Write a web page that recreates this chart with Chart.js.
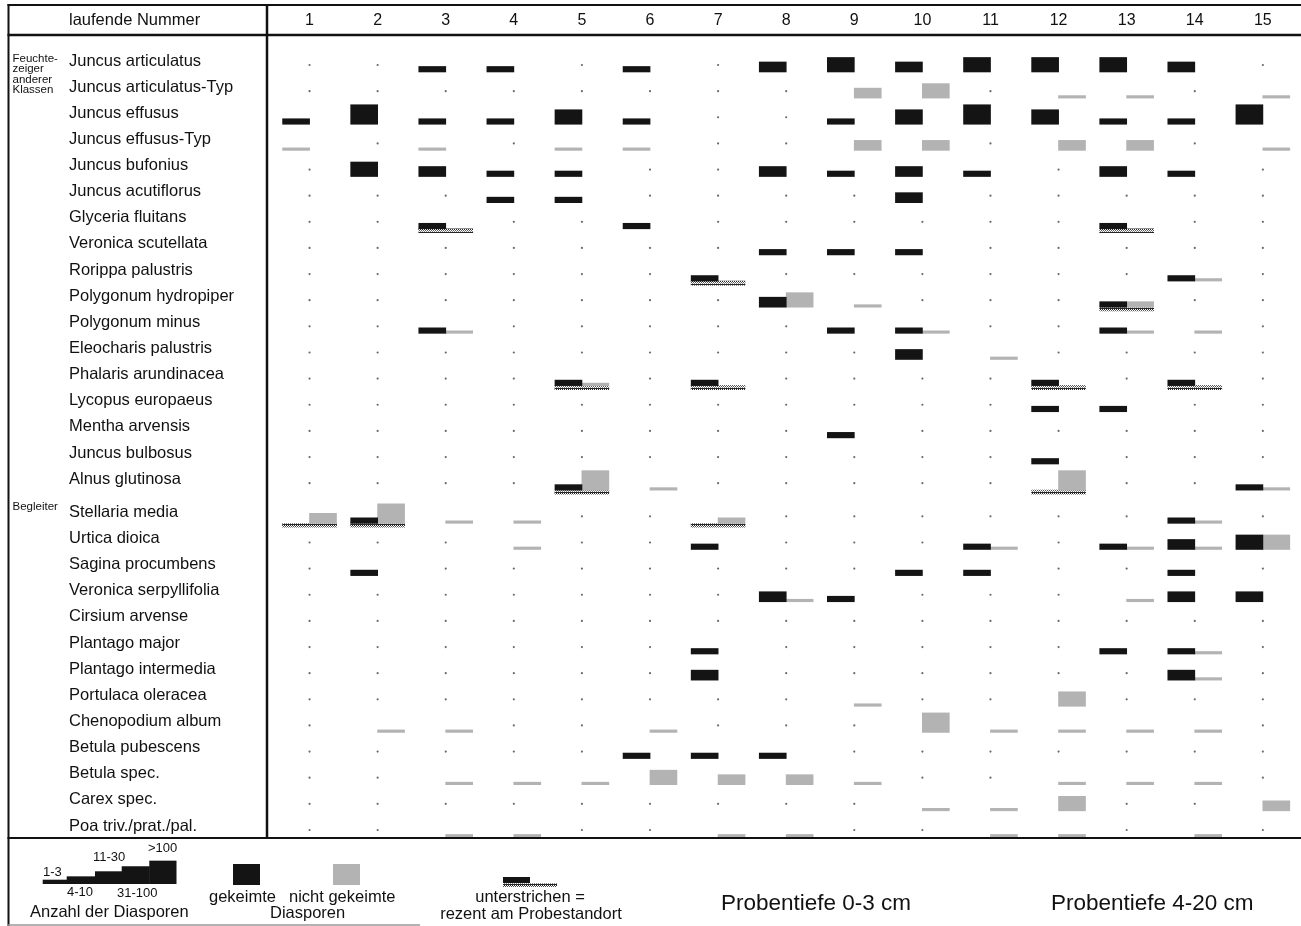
<!DOCTYPE html>
<html>
<head>
<meta charset="utf-8">
<script src="https://cdn.jsdelivr.net/npm/chart.js@4.4.1/dist/chart.umd.min.js"></script>
<style>
html,body{margin:0;padding:0;background:#fff;}
#wrap{position:relative;width:1301px;height:926px;}
canvas{display:block;}
</style>
</head>
<body>
<div id="wrap"><canvas id="c" width="1301" height="926"></canvas></div>
<script>
// ---------------- DATA ----------------
const columns = ['1','2','3','4','5','6','7','8','9','10','11','12','13','14','15'];
const species = [
  'Juncus articulatus','Juncus articulatus-Typ','Juncus effusus','Juncus effusus-Typ',
  'Juncus bufonius','Juncus acutiflorus','Glyceria fluitans','Veronica scutellata',
  'Rorippa palustris','Polygonum hydropiper','Polygonum minus','Eleocharis palustris',
  'Phalaris arundinacea','Lycopus europaeus','Mentha arvensis','Juncus bulbosus',
  'Alnus glutinosa',
  'Stellaria media','Urtica dioica','Sagina procumbens','Veronica serpyllifolia',
  'Cirsium arvense','Plantago major','Plantago intermedia','Portulaca oleracea',
  'Chenopodium album','Betula pubescens','Betula spec.','Carex spec.','Poa triv./prat./pal.'
];
const groupNames = [['Feuchte-','zeiger','anderer','Klassen'], ['Begleiter']];
const groupStarts = [0, 17];
const abundanceClasses = ['1-3','4-10','11-30','31-100','>100'];

// abundance class (0 = none, 1..5) of germinated diaspores, per species, per sample 1..15
const black = [
  [0,0,2,2,0,2,0,3,4,3,4,4,4,3,0],
  [0,0,0,0,0,0,0,0,0,0,0,0,0,0,0],
  [2,5,2,2,4,2,0,0,2,4,5,4,2,2,5],
  [0,0,0,0,0,0,0,0,0,0,0,0,0,0,0],
  [0,4,3,2,2,0,0,3,2,3,2,0,3,2,0],
  [0,0,0,2,2,0,0,0,0,3,0,0,0,0,0],
  [0,0,2,0,0,2,0,0,0,0,0,0,2,0,0],
  [0,0,0,0,0,0,0,2,2,2,0,0,0,0,0],
  [0,0,0,0,0,0,2,0,0,0,0,0,0,2,0],
  [0,0,0,0,0,0,0,3,0,0,0,0,2,0,0],
  [0,0,2,0,0,0,0,0,2,2,0,0,2,0,0],
  [0,0,0,0,0,0,0,0,0,3,0,0,0,0,0],
  [0,0,0,0,2,0,2,0,0,0,0,2,0,2,0],
  [0,0,0,0,0,0,0,0,0,0,0,2,2,0,0],
  [0,0,0,0,0,0,0,0,2,0,0,0,0,0,0],
  [0,0,0,0,0,0,0,0,0,0,0,2,0,0,0],
  [0,0,0,0,2,0,0,0,0,0,0,0,0,0,2],
  [0,2,0,0,0,0,0,0,0,0,0,0,0,2,0],
  [0,0,0,0,0,0,2,0,0,0,2,0,2,3,4],
  [0,2,0,0,0,0,0,0,0,2,2,0,0,2,0],
  [0,0,0,0,0,0,0,3,2,0,0,0,0,3,3],
  [0,0,0,0,0,0,0,0,0,0,0,0,0,0,0],
  [0,0,0,0,0,0,2,0,0,0,0,0,2,2,0],
  [0,0,0,0,0,0,3,0,0,0,0,0,0,3,0],
  [0,0,0,0,0,0,0,0,0,0,0,0,0,0,0],
  [0,0,0,0,0,0,0,0,0,0,0,0,0,0,0],
  [0,0,0,0,0,2,2,2,0,0,0,0,0,0,0],
  [0,0,0,0,0,0,0,0,0,0,0,0,0,0,0],
  [0,0,0,0,0,0,0,0,0,0,0,0,0,0,0],
  [0,0,0,0,0,0,0,0,0,0,0,0,0,0,0]
];
// abundance class of non-germinated diaspores
const gray = [
  [0,0,0,0,0,0,0,0,0,0,0,0,0,0,0],
  [0,0,0,0,0,0,0,0,3,4,0,1,1,0,1],
  [0,0,0,0,0,0,0,0,0,0,0,0,0,0,0],
  [1,0,1,0,1,1,0,0,3,3,0,3,3,0,1],
  [0,0,0,0,0,0,0,0,0,0,0,0,0,0,0],
  [0,0,0,0,0,0,0,0,0,0,0,0,0,0,0],
  [0,0,0,0,0,0,0,0,0,0,0,0,0,0,0],
  [0,0,0,0,0,0,0,0,0,0,0,0,0,0,0],
  [0,0,0,0,0,0,0,0,0,0,0,0,0,1,0],
  [0,0,0,0,0,0,0,4,1,0,0,0,2,0,0],
  [0,0,1,0,0,0,0,0,0,1,0,0,1,1,0],
  [0,0,0,0,0,0,0,0,0,0,1,0,0,0,0],
  [0,0,0,0,1,0,0,0,0,0,0,0,0,0,0],
  [0,0,0,0,0,0,0,0,0,0,0,0,0,0,0],
  [0,0,0,0,0,0,0,0,0,0,0,0,0,0,0],
  [0,0,0,0,0,0,0,0,0,0,0,0,0,0,0],
  [0,0,0,0,5,1,0,0,0,0,0,5,0,0,1],
  [3,5,1,1,0,0,2,0,0,0,0,0,0,1,0],
  [0,0,0,1,0,0,0,0,0,0,1,0,1,1,4],
  [0,0,0,0,0,0,0,0,0,0,0,0,0,0,0],
  [0,0,0,0,0,0,0,1,0,0,0,0,1,0,0],
  [0,0,0,0,0,0,0,0,0,0,0,0,0,0,0],
  [0,0,0,0,0,0,0,0,0,0,0,0,0,1,0],
  [0,0,0,0,0,0,0,0,0,0,0,0,0,1,0],
  [0,0,0,0,0,0,0,0,1,0,0,4,0,0,0],
  [0,1,1,0,0,1,0,0,0,5,1,1,1,1,0],
  [0,0,0,0,0,0,0,0,0,0,0,0,0,0,0],
  [0,0,1,1,1,4,3,3,1,0,0,1,1,1,0],
  [0,0,0,0,0,0,0,0,0,1,1,4,0,0,3],
  [0,0,1,1,0,0,1,1,0,0,1,1,0,1,0]
];
// [species index, sample number] : underlined = recent at sample site
const underlined = [[6,3],[6,13],[8,7],[9,13],[12,5],[12,7],[12,12],[12,14],[16,5],[16,12],[17,1],[17,2],[17,7]];
// [species index, sample number] : non-germinated mark drawn on the left half of the cell
const grayOnLeft = [[3,1],[3,3],[3,5],[3,6]];

// ---------------- GEOMETRY / STYLE CONSTANTS ----------------
const FONT = '"Liberation Sans", Arial, Helvetica, sans-serif';
const BLACK = '#141414', GRAY = '#b3b3b3', DOT = '#6a6a6a';
const GROUP_GAP = 0.27;           // extra space (in rows) before "Begleiter"
const BASE_OFF = 0.42;            // bar baseline below label centre (rows)
const DOT_OFF = 0.153;
const HATCH_H = 0.153;
const CLASS_PX = [0, 2.5, 5.5, 10, 14.5, 19.5];
const ROW_PX = 26.135;
const CLASS_H = CLASS_PX.map(p => p / ROW_PX);
const HALF = 0.1975;              // half cell width offset (columns)

const rowPos = i => i + (i >= groupStarts[1] ? GROUP_GAP : 0);
const key = (r, c) => r * 100 + c;
const underSet = new Set(underlined.map(([r, c]) => key(r, c)));
const leftSet = new Set(grayOnLeft.map(([r, c]) => key(r, c)));

// hatch pattern for "underlined"
function makeHatch() {
  const cv = document.createElement('canvas');
  cv.width = 4; cv.height = 4;
  const g = cv.getContext('2d');
  g.fillStyle = '#ffffff'; g.fillRect(0, 0, 4, 4);
  g.fillStyle = '#262626'; g.fillRect(0, 0, 4, 1);
  g.fillRect(0, 1, 1, 1); g.fillRect(2, 1, 1, 1);
  g.fillStyle = '#555'; g.fillRect(1, 2, 1, 1); g.fillRect(3, 2, 1, 1);
  g.fillStyle = '#888'; g.fillRect(0, 3, 1, 1); g.fillRect(2, 3, 1, 1);
  return document.getElementById('c').getContext('2d').createPattern(cv, 'repeat');
}
const hatch = makeHatch();

const blackBars = [], grayBars = [], hatchBars = [], dots = [];
species.forEach((name, r) => {
  const base = rowPos(r) + BASE_OFF;
  columns.forEach((col, ci) => {
    const c = ci + 1;
    const b = black[r][ci], g = gray[r][ci], u = underSet.has(key(r, c));
    if (b) blackBars.push({x: c - HALF, y: [base, base - CLASS_H[b]]});
    if (g) grayBars.push({x: leftSet.has(key(r, c)) ? c - HALF : c + HALF, y: [base, base - CLASS_H[g]]});
    if (u) hatchBars.push({x: c, y: [base, base + HATCH_H]});
    if (!b && !g && !u) dots.push({x: c, y: rowPos(r) + DOT_OFF});
  });
});

// ---------------- DECORATION PLUGIN ----------------
const tablePlugin = {
  id: 'tableFrame',
  afterDraw(chart) {
    const {ctx, chartArea: a, scales: {y}} = chart;
    const W = chart.width;
    ctx.save();
    const line = (x1, y1, x2, y2, w, col) => {
      ctx.beginPath(); ctx.lineWidth = w; ctx.strokeStyle = col || '#111';
      ctx.moveTo(x1, y1); ctx.lineTo(x2, y2); ctx.stroke();
    };
    line(7.5, 5, W, 5, 2);
    line(7.5, a.top - 7, W, a.top - 7, 2.5);
    line(8.5, 4, 8.5, 926, 2);
    line(a.left - 1, 4, a.left - 1, a.bottom, 2.5);
    line(7.5, a.bottom, W, a.bottom, 2);
    line(7.5, 925, 420, 925, 1.5, '#999');

    ctx.fillStyle = '#111';
    ctx.textBaseline = 'middle';
    ctx.textAlign = 'left';
    ctx.font = '16.5px ' + FONT;
    ctx.fillText('laufende Nummer', 69, 20);

    // group labels
    ctx.font = '11.5px ' + FONT;
    groupNames.forEach((lines, gi) => {
      const y0 = y.getPixelForValue(rowPos(groupStarts[gi])) - (gi === 0 ? 2 : 6);
      lines.forEach((t, li) => ctx.fillText(t, 12.5, y0 + li * 10.3));
    });

    // ---- legend ----
    const bottom = a.bottom;
    const stepX = [42.7, 66.7, 95, 121.7, 149.3, 176];
    const baseY = bottom + 46;
    ctx.fillStyle = BLACK;
    for (let i = 0; i < 5; i++) {
      const h = CLASS_PX[i + 1] * 1.12 + 1.5;
      ctx.fillRect(stepX[i], baseY - h, stepX[i + 1] - stepX[i] + 0.5, h);
    }
    ctx.fillStyle = '#111';
    ctx.font = '13px ' + FONT;
    ctx.fillText(abundanceClasses[0], 43, bottom + 34);
    ctx.fillText(abundanceClasses[2], 93, bottom + 19);
    ctx.fillText(abundanceClasses[4], 148, bottom + 10);
    ctx.fillText(abundanceClasses[1], 67, bottom + 54);
    ctx.fillText(abundanceClasses[3], 117, bottom + 55);
    ctx.font = '16.5px ' + FONT;
    ctx.fillText('Anzahl der Diasporen', 30, bottom + 74);

    ctx.fillStyle = BLACK; ctx.fillRect(233, bottom + 26, 27, 21);
    ctx.fillStyle = GRAY;  ctx.fillRect(333, bottom + 26, 27, 21);
    ctx.fillStyle = '#111';
    ctx.fillText('gekeimte', 209, bottom + 59);
    ctx.fillText('nicht gekeimte', 289, bottom + 59);
    ctx.fillText('Diasporen', 270, bottom + 75);

    ctx.fillStyle = BLACK; ctx.fillRect(503, bottom + 39, 27, 6);
    ctx.fillStyle = hatch; ctx.fillRect(503, bottom + 45, 54, 4);
    ctx.fillStyle = '#111';
    ctx.textAlign = 'center';
    ctx.fillText('unterstrichen =', 530, bottom + 59);
    ctx.fillText('rezent am Probestandort', 531, bottom + 76);
    ctx.textAlign = 'left';
    ctx.font = '22.5px ' + FONT;
    ctx.fillText('Probentiefe 0-3 cm', 721, bottom + 66);
    ctx.fillText('Probentiefe 4-20 cm', 1051, bottom + 66);
    ctx.restore();
  }
};

// ---------------- CHART ----------------
new Chart(document.getElementById('c'), {
  type: 'bar',
  data: {
    datasets: [
      {label: 'gekeimte', data: blackBars, backgroundColor: BLACK, barThickness: 27, grouped: false, borderWidth: 0},
      {label: 'nicht gekeimte', data: grayBars, backgroundColor: GRAY, barThickness: 27, grouped: false, borderWidth: 0},
      {label: 'unterstrichen', data: hatchBars, backgroundColor: hatch, barThickness: 54, grouped: false, borderWidth: 0},
      {type: 'scatter', label: 'leer', data: dots, pointRadius: 1.1, pointBackgroundColor: DOT, pointBorderWidth: 0, showLine: false}
    ]
  },
  options: {
    responsive: false,
    animation: false,
    events: [],
    layout: {padding: {left: 69, top: 0, right: 0, bottom: 88}},
    plugins: {legend: {display: false}, tooltip: {enabled: false}},
    scales: {
      x: {
        type: 'linear', position: 'top', offset: false,
        min: 0.39, max: 15.5015,
        grid: {display: false, drawTicks: false}, border: {display: false},
        afterBuildTicks: s => { s.ticks = columns.map((_, i) => ({value: i + 1})); },
        afterFit: s => { s.height = 42; },
        ticks: {
          autoSkip: false, maxRotation: 0, padding: 12, color: '#111',
          font: {family: FONT, size: 16},
          callback: (v, i) => columns[i]
        }
      },
      y: {
        type: 'linear', reverse: true,
        min: -0.727, max: rowPos(species.length - 1) + 0.46,
        grid: {display: false, drawTicks: false}, border: {display: false},
        afterBuildTicks: s => { s.ticks = species.map((_, i) => ({value: rowPos(i)})); },
        afterFit: s => { s.width = 199; },
        ticks: {
          autoSkip: false, crossAlign: 'far', color: '#111',
          font: {family: FONT, size: 16.5},
          callback: (v, i) => species[i]
        }
      }
    }
  },
  plugins: [tablePlugin]
});
</script>
</body>
</html>
